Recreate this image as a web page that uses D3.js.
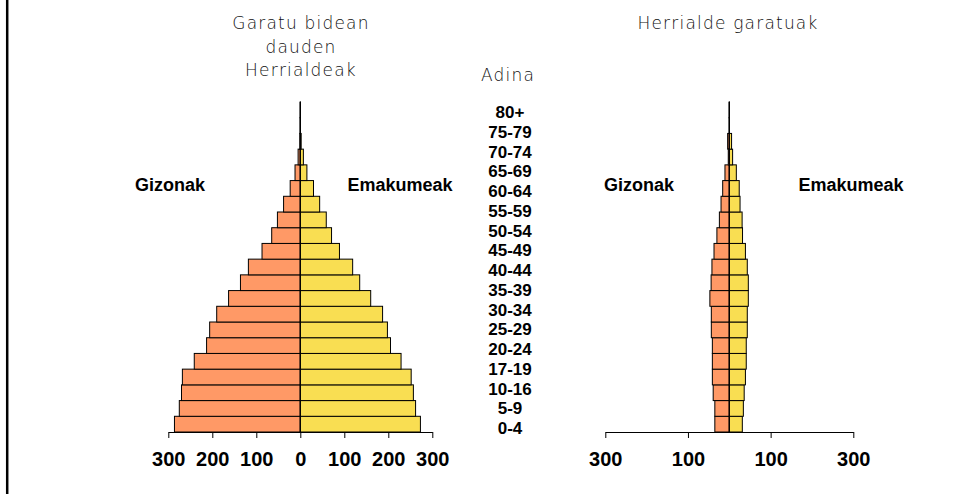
<!DOCTYPE html>
<html>
<head>
<meta charset="utf-8">
<script src="https://cdn.jsdelivr.net/npm/d3@7"></script>
<style>
  body { margin: 0; background: #fff; }
  svg { display: block; }
  .title { font-family: "DejaVu Sans", sans-serif; font-weight: 200; font-size: 17px; letter-spacing: 1.2px; fill: #111; }
  .bold { font-family: "Liberation Sans", Arial, sans-serif; font-weight: bold; fill: #000; }
</style>
</head>
<body>
<svg id="chart" width="955" height="494"></svg>
<script>
// age groups of the bars, bottom to top
const ageGroups = ["0-4", "5-9", "10-14", "15-19", "20-24", "25-29", "30-34", "35-39", "40-44",
    "45-49", "50-54", "55-59", "60-64", "65-69", "70-74", "75-79", "80-84", "85-89", "90-94", "95-99", "100+"];

// labels written in the middle column, top to bottom
const ageLabels = ["80+", "75-79", "70-74", "65-69", "60-64", "55-59", "50-54", "45-49", "40-44",
    "35-39", "30-34", "25-29", "20-24", "17-19", "10-16", "5-9", "0-4"];

// developing countries (millions)
const devMen   = [286, 275, 270, 268, 241, 213, 206, 190, 163, 136, 118, 87, 65, 52, 38, 23, 12, 5, 1, 0.3, 0.1];
const devWomen = [273, 262, 257, 252, 229, 205, 198, 187, 160, 135, 119, 89, 71, 59, 44, 30, 15, 7, 2, 0.4, 0.1];

// developed countries (millions)
const richMen   = [35, 35, 39, 41, 41, 41, 43.5, 43.5, 47, 44, 42, 37, 30, 24, 20, 16, 10.5, 2.5, 4, 0.2, 0.1];
const richWomen = [31.5, 34, 36, 39, 41, 41, 43.5, 43.5, 46, 46, 43.5, 39, 32, 31, 26, 24, 17, 8, 5.5, 0.2, 0.1];

const leftTicks = [-300, -200, -100, 0, 100, 200, 300];
const rightTicks = [-300, -100, 100, 300];

const menColor = "#FF9966";
const womenColor = "#F9DE52";

const svg = d3.select("#chart");

// left frame line
svg.append("line")
    .attr("x1", 7.2).attr("x2", 7.2)
    .attr("y1", 0).attr("y2", 494)
    .attr("stroke", "black")
    .attr("stroke-width", 2.5);

const y = d3.scaleBand()
    .domain(ageGroups)
    .range([432, 102])
    .paddingInner(0);

function pyramid(center, halfWidth, men, women, ticks) {
    const x = d3.scaleLinear()
        .domain([-300, 300])
        .range([center - halfWidth, center + halfWidth]);

    const g = svg.append("g");

    g.selectAll(".men")
        .data(men)
        .enter()
        .append("rect")
        .attr("x", d => x(-d))
        .attr("y", (d, i) => y(ageGroups[i]))
        .attr("width", d => x(0) - x(-d))
        .attr("height", y.bandwidth())
        .attr("fill", menColor)
        .attr("stroke", "black")
        .attr("stroke-width", 1);

    g.selectAll(".women")
        .data(women)
        .enter()
        .append("rect")
        .attr("x", x(0))
        .attr("y", (d, i) => y(ageGroups[i]))
        .attr("width", d => x(d) - x(0))
        .attr("height", y.bandwidth())
        .attr("fill", womenColor)
        .attr("stroke", "black")
        .attr("stroke-width", 1);

    // centre line
    g.append("line")
        .attr("x1", x(0)).attr("x2", x(0))
        .attr("y1", y.range()[1]).attr("y2", y.range()[0])
        .attr("stroke", "black")
        .attr("stroke-width", 1.2);

    const axis = g.append("g")
        .attr("transform", `translate(0,${y.range()[0]})`)
        .call(d3.axisBottom(x)
            .tickValues(ticks)
            .tickFormat(d => Math.abs(d))
            .tickSize(6)
            .tickSizeOuter(0)
            .tickPadding(14));
    axis.selectAll("text")
        .attr("class", "bold")
        .attr("font-size", "20px");
    axis.selectAll("line, path").attr("stroke", "black");

    return x;
}

pyramid(300.3, 132, devMen, devWomen, leftTicks);
pyramid(729.3, 124, richMen, richWomen, rightTicks);

// titles
svg.append("text")
    .attr("class", "title")
    .attr("text-anchor", "middle")
    .selectAll("tspan")
    .data(["Garatu bidean", "dauden", "Herrialdeak"])
    .enter()
    .append("tspan")
    .attr("x", 301)
    .attr("y", (d, i) => 29 + i * 23.5)
    .text(d => d);

svg.append("text")
    .attr("class", "title")
    .attr("text-anchor", "middle")
    .attr("x", 728)
    .attr("y", 29)
    .text("Herrialde garatuak");

svg.append("text")
    .attr("class", "title")
    .attr("text-anchor", "middle")
    .attr("x", 508)
    .attr("y", 81)
    .text("Adina");

// sex labels
[["Gizonak", 170], ["Emakumeak", 400], ["Gizonak", 639], ["Emakumeak", 851]].forEach(([t, cx]) => {
    svg.append("text")
        .attr("class", "bold")
        .attr("font-size", "18px")
        .attr("text-anchor", "middle")
        .attr("x", cx)
        .attr("y", 191)
        .text(t);
});

// age labels
const labelY = d3.scalePoint()
    .domain(ageLabels)
    .range([118, 434]);

svg.append("g")
    .selectAll("text")
    .data(ageLabels)
    .enter()
    .append("text")
    .attr("class", "bold")
    .attr("font-size", "17px")
    .attr("text-anchor", "middle")
    .attr("x", 510)
    .attr("y", d => labelY(d))
    .text(d => d);
</script>
</body>
</html>
